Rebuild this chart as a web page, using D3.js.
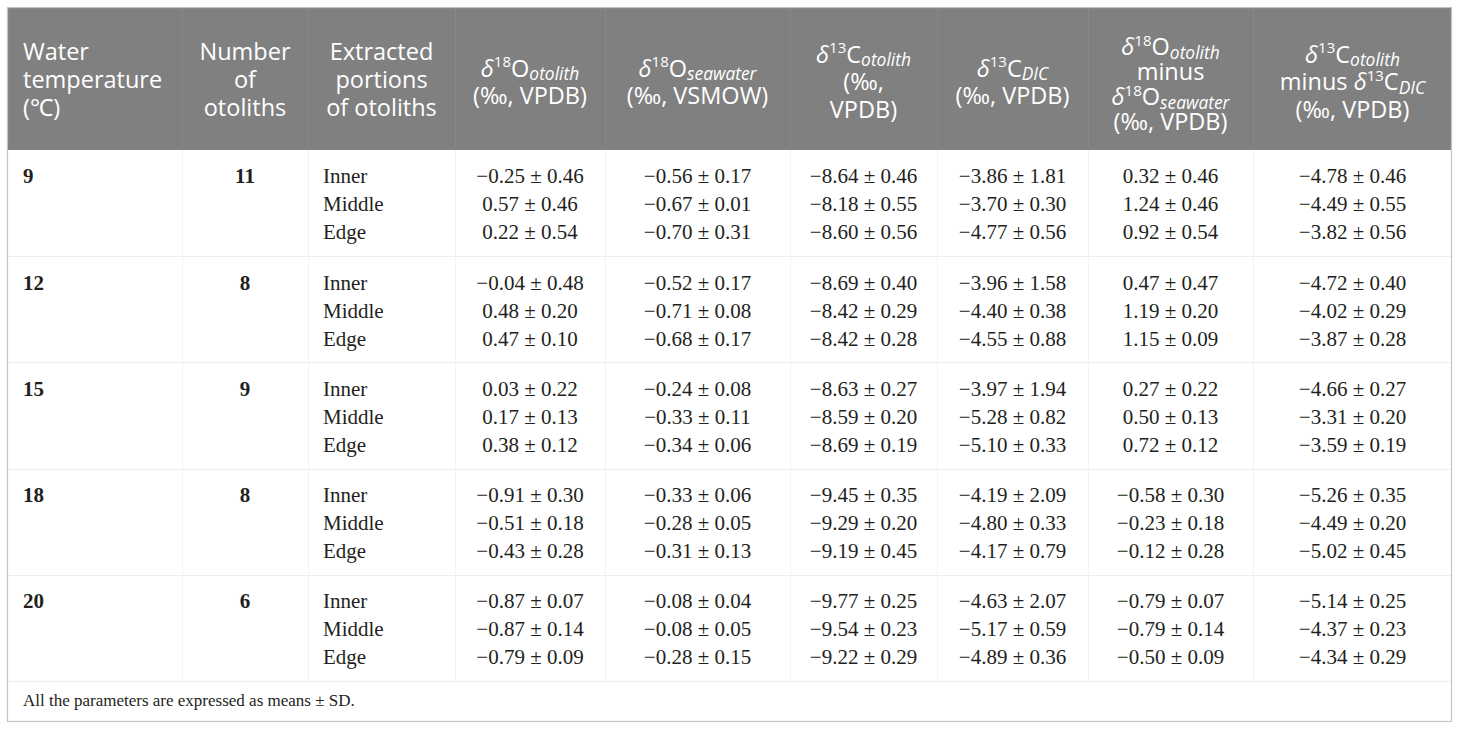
<!DOCTYPE html>
<html><head><meta charset="utf-8">
<script src="https://cdn.jsdelivr.net/npm/d3@7"></script>
<style>body{margin:0;background:#fff;}svg{display:block;}</style>
</head><body>
<script>
// ---------- data ----------
const temperatures = [9, 12, 15, 18, 20];
const otolithCounts = [11, 8, 9, 8, 6];
const portions = ["Inner", "Middle", "Edge"];

const d18Ootolith_mean = [[-0.25,0.57,0.22],[-0.04,0.48,0.47],[0.03,0.17,0.38],[-0.91,-0.51,-0.43],[-0.87,-0.87,-0.79]];
const d18Ootolith_sd   = [[0.46,0.46,0.54],[0.48,0.20,0.10],[0.22,0.13,0.12],[0.30,0.18,0.28],[0.07,0.14,0.09]];
const d18Osea_mean = [[-0.56,-0.67,-0.70],[-0.52,-0.71,-0.68],[-0.24,-0.33,-0.34],[-0.33,-0.28,-0.31],[-0.08,-0.08,-0.28]];
const d18Osea_sd   = [[0.17,0.01,0.31],[0.17,0.08,0.17],[0.08,0.11,0.06],[0.06,0.05,0.13],[0.04,0.05,0.15]];
const d13Cotolith_mean = [[-8.64,-8.18,-8.60],[-8.69,-8.42,-8.42],[-8.63,-8.59,-8.69],[-9.45,-9.29,-9.19],[-9.77,-9.54,-9.22]];
const d13Cotolith_sd   = [[0.46,0.55,0.56],[0.40,0.29,0.28],[0.27,0.20,0.19],[0.35,0.20,0.45],[0.25,0.23,0.29]];
const d13CDIC_mean = [[-3.86,-3.70,-4.77],[-3.96,-4.40,-4.55],[-3.97,-5.28,-5.10],[-4.19,-4.80,-4.17],[-4.63,-5.17,-4.89]];
const d13CDIC_sd   = [[1.81,0.30,0.56],[1.58,0.38,0.88],[1.94,0.82,0.33],[2.09,0.33,0.79],[2.07,0.59,0.36]];
const dO_diff_mean = [[0.32,1.24,0.92],[0.47,1.19,1.15],[0.27,0.50,0.72],[-0.58,-0.23,-0.12],[-0.79,-0.79,-0.50]];
const dO_diff_sd   = [[0.46,0.46,0.54],[0.47,0.20,0.09],[0.22,0.13,0.12],[0.30,0.18,0.28],[0.07,0.14,0.09]];
const dC_diff_mean = [[-4.78,-4.49,-3.82],[-4.72,-4.02,-3.87],[-4.66,-3.31,-3.59],[-5.26,-4.49,-5.02],[-5.14,-4.37,-4.34]];
const dC_diff_sd   = [[0.46,0.55,0.56],[0.40,0.29,0.28],[0.27,0.20,0.19],[0.35,0.20,0.45],[0.25,0.23,0.29]];

const footnote = "All the parameters are expressed as means ± SD.";

// header lines: segments [text, style]  (style: "" normal, "i" italic, "sup", "sub")
const dO18oto = [["δ","i"],["18","sup"],["O",""],["otolith","sub"]];
const dO18sea = [["δ","i"],["18","sup"],["O",""],["seawater","sub"]];
const dC13oto = [["δ","i"],["13","sup"],["C",""],["otolith","sub"]];
const dC13dic = [["δ","i"],["13","sup"],["C",""],["DIC","sub"]];
const headers = [
  [[["Water",""]],[["temperature",""]],[["(℃)",""]]],
  [[["Number",""]],[["of",""]],[["otoliths",""]]],
  [[["Extracted",""]],[["portions",""]],[["of otoliths",""]]],
  [dO18oto,[["(‰, VPDB)",""]]],
  [dO18sea,[["(‰, VSMOW)",""]]],
  [dC13oto,[["(‰,",""]],[["VPDB)",""]]],
  [dC13dic,[["(‰, VPDB)",""]]],
  [dO18oto,[["minus",""]],dO18sea,[["(‰, VPDB)",""]]],
  [dC13oto,[["minus ",""],["δ","i"],["13","sup"],["C",""],["DIC","sub"]],[["(‰, VPDB)",""]]]
];
const valueColumns = [
  [d18Ootolith_mean, d18Ootolith_sd],
  [d18Osea_mean, d18Osea_sd],
  [d13Cotolith_mean, d13Cotolith_sd],
  [d13CDIC_mean, d13CDIC_sd],
  [dO_diff_mean, dO_diff_sd],
  [dC_diff_mean, dC_diff_sd]
];

// ---------- layout ----------
const W = 1460, H = 731;
const colEdges = [7, 182, 308, 455, 605, 790, 937, 1088, 1253, 1452];
const topY = 7, headBottom = 150, bodyBottom = 681, bottomY = 722;
const sansFont = "'Open Sans', 'Noto Sans', sans-serif";
const serifFont = "'Liberation Serif', 'DejaVu Serif', serif";
const ink = "#231f20";

const svg = d3.select("body").append("svg").attr("width", W).attr("height", H);

const groupScale = d3.scaleBand().domain(d3.range(temperatures.length)).range([headBottom, bodyBottom]);
const rowScale = d3.scalePoint().domain(d3.range(portions.length)).range([26, 82]);
const fmt = v => (v < 0 ? "\u2212" : "") + Math.abs(v).toFixed(2);

// header background
svg.append("rect").attr("x", colEdges[0]).attr("y", topY).attr("width", colEdges[9]-colEdges[0]).attr("height", headBottom-topY)
  .attr("fill", "#808080");
// header dividers
svg.selectAll("line.hdiv").data(colEdges.slice(1, -1)).join("line")
  .attr("x1", d => d + 0.5).attr("x2", d => d + 0.5).attr("y1", topY + 1).attr("y2", headBottom)
  .attr("stroke", "#878787").attr("stroke-width", 1);

// body grid lines
svg.selectAll("line.bdiv").data(colEdges.slice(1, -1)).join("line")
  .attr("x1", d => d + 0.5).attr("x2", d => d + 0.5).attr("y1", headBottom).attr("y2", bodyBottom)
  .attr("stroke", "#f3f3f3").attr("stroke-width", 1);
svg.selectAll("line.rdiv").data(d3.range(1, temperatures.length + 1)).join("line")
  .attr("x1", colEdges[0]).attr("x2", colEdges[9])
  .attr("y1", i => Math.round(i < temperatures.length ? groupScale(i) : bodyBottom) + 0.5)
  .attr("y2", i => Math.round(i < temperatures.length ? groupScale(i) : bodyBottom) + 0.5)
  .attr("stroke", "#eeeeee").attr("stroke-width", 1);

// outer border
svg.append("rect").attr("x", colEdges[0] + 0.5).attr("y", topY + 0.5)
  .attr("width", colEdges[9]-colEdges[0]-1).attr("height", bottomY-topY-1)
  .attr("fill", "none").attr("stroke", "#c4c4c4").attr("stroke-width", 1.2);

// header text
const hFont = 23.5;
headers.forEach((lines, ci) => {
  const n = lines.length;
  const hasDelta = ci >= 3;
  const lh = n >= 4 ? 25 : (hasDelta ? 27.5 : 28);
  const center = n >= 4 ? 84.5 : (hasDelta ? 82 : 79.5);
  const leftAlign = ci === 0;
  const x = leftAlign ? 23 : (colEdges[ci] + colEdges[ci+1]) / 2;
  lines.forEach((segs, li) => {
    const y = center + (li - (n - 1) / 2) * lh + hFont * 0.36;
    const t = svg.append("text").attr("x", x).attr("y", y)
      .attr("text-anchor", leftAlign ? "start" : "middle")
      .attr("font-family", sansFont).attr("font-size", hFont).attr("fill", "#fff");
    let off = 0;
    segs.forEach(([txt, st]) => {
      let target = 0, size = hFont, style = "normal";
      if (st === "sup") { target = -0.42 * hFont; size = hFont * 0.64; }
      if (st === "sub") { target = 0.13 * hFont; size = hFont * 0.74; style = "italic"; }
      if (st === "i") style = "italic";
      t.append("tspan").attr("dy", target - off).attr("font-size", size).attr("font-style", style).text(txt);
      off = target;
    });
  });
});

// body text
const bFont = 21;
const groups = svg.selectAll("g.grp").data(temperatures).join("g")
  .attr("transform", (d, i) => `translate(0,${groupScale(i)})`);

groups.append("text").attr("x", 23).attr("y", rowScale(0)).attr("dy", "0.35em")
  .attr("font-family", serifFont).attr("font-size", bFont).attr("font-weight", "bold").attr("fill", ink)
  .text(d => d);
groups.append("text").attr("x", (colEdges[1]+colEdges[2])/2).attr("y", rowScale(0)).attr("dy", "0.35em")
  .attr("text-anchor", "middle")
  .attr("font-family", serifFont).attr("font-size", bFont).attr("font-weight", "bold").attr("fill", ink)
  .text((d, i) => otolithCounts[i]);
groups.selectAll("text.portion").data(portions).join("text").attr("class", "portion")
  .attr("x", 323).attr("y", (d, j) => rowScale(j)).attr("dy", "0.35em")
  .attr("font-family", serifFont).attr("font-size", bFont).attr("fill", ink)
  .text(d => d);

valueColumns.forEach(([means, sds], k) => {
  const cx = (colEdges[3+k] + colEdges[4+k]) / 2;
  groups.selectAll("text.v" + k).data((d, i) => means[i].map((m, j) => [m, sds[i][j]]))
    .join("text").attr("class", "v" + k)
    .attr("x", cx).attr("y", (d, j) => rowScale(j)).attr("dy", "0.35em")
    .attr("text-anchor", "middle")
    .attr("font-family", serifFont).attr("font-size", bFont).attr("fill", ink)
    .text(([m, s]) => `${fmt(m)} ± ${s.toFixed(2)}`);
});

// footnote
svg.append("text").attr("x", 23).attr("y", 700).attr("dy", "0.35em")
  .attr("font-family", serifFont).attr("font-size", 17).attr("fill", ink)
  .text(footnote);
</script>
</body></html>
